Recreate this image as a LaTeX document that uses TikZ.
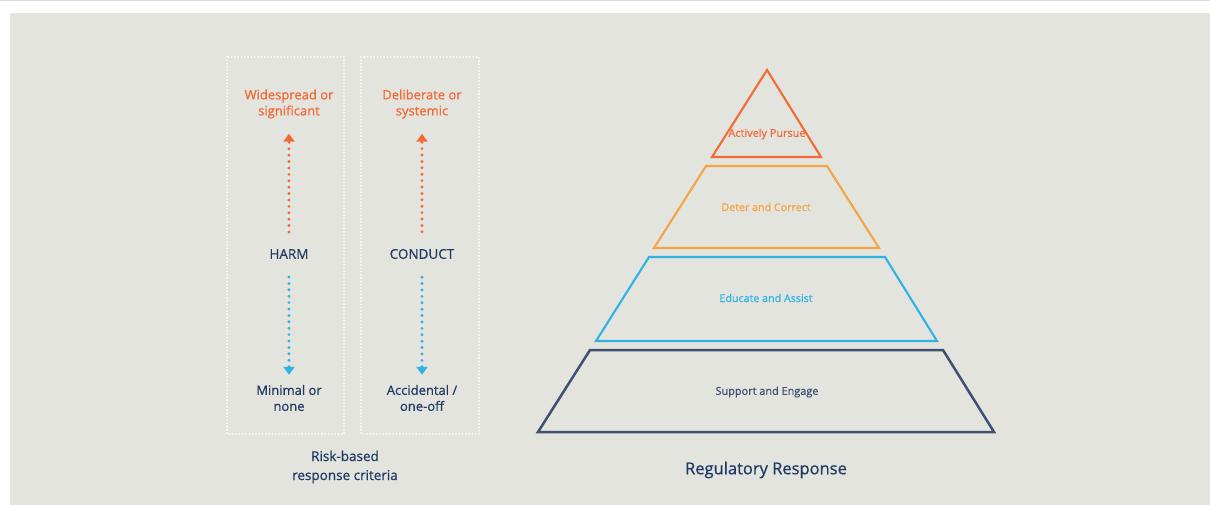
\documentclass[tikz,border=0pt]{standalone}
\usepackage{fontspec}
\setmainfont{Open Sans}
\newfontfamily\semib[FakeBold=0.7]{Open Sans}
\usetikzlibrary{arrows.meta}
\definecolor{panel}{HTML}{E4E4DF}
\definecolor{topline}{HTML}{DCDCDC}
\definecolor{rorange}{HTML}{F26A35}
\definecolor{ramber}{HTML}{F5A443}
\definecolor{rblue}{HTML}{2FB3E3}
\definecolor{rnavy}{HTML}{1F3B63}
\definecolor{pnavy}{HTML}{3D5270}
\tikzset{
  lbl/.style={font=\semib\fontsize{13}{16}\selectfont, align=center, inner sep=0pt},
  hi/.style={lbl, text=rorange},
  lo/.style={lbl, text=rnavy},
  axis/.style={lbl, text=rnavy, font=\semib\fontsize{13.5}{16}\selectfont},
  dotbox/.style={draw=white, line width=1.9pt, dash pattern=on 0pt off 3.3pt, line cap=round},
  dotarrow/.style={line width=3.2pt, dash pattern=on 0pt off 6.4pt, line cap=round,
    -{Triangle[width=11pt,length=8pt]}},
  tier/.style={line width=2.1pt, line join=miter},
  tierlbl/.style={font=\semib\fontsize{10.7}{12}\selectfont, inner sep=0pt},
}
\begin{document}
\begin{tikzpicture}[x=1pt,y=-1pt]
\useasboundingbox (0,0) rectangle (1210,505);
\fill[white] (0,0) rectangle (1210,505);
\fill[topline] (0,0) rectangle (1210,1.5);
\fill[panel] (10,13) rectangle (1210,505);

% dotted boxes
\draw[dotbox] (227,57) rectangle (344,434);
\draw[dotbox] (361,57) rectangle (479,434);

% left column
\node[hi] (wide) at (289,104) {Widespread or\\significant};
\node[axis] (harm) at (289,254) {HARM};
\node[lo] (minimal) at (289,398) {Minimal or\\none};
\draw[dotarrow, rorange, shorten <=17pt, shorten >=15pt] (harm.north) -- (wide.south);
\draw[dotarrow, rblue, shorten <=18pt, shorten >=10pt] (harm.south) -- (minimal.north);

% right column
\node[hi] (delib) at (422,104) {Deliberate or\\systemic};
\node[axis] (conduct) at (422,254) {CONDUCT};
\node[lo] (accid) at (422,398) {Accidental /\\one-off};
\draw[dotarrow, rorange, shorten <=17pt, shorten >=15pt] (conduct.north) -- (delib.south);
\draw[dotarrow, rblue, shorten <=18pt, shorten >=10pt] (conduct.south) -- (accid.north);

\node[lo, font=\semib\fontsize{13.5}{19}\selectfont] (criteria) at (345,467) {Risk-based\\response criteria};

% pyramid
\draw[tier, rorange] (767,70) -- (821,157) -- (712,157) -- cycle;
\node[tierlbl, text=rorange, font=\semib\fontsize{10.9}{12}\selectfont] (pursue) at (767,134) {Actively Pursue};
\draw[tier, ramber] (706,166) -- (827,166) -- (879,248) -- (654,248) -- cycle;
\node[tierlbl, text=ramber] (deter) at (766,207) {Deter and Correct};
\draw[tier, rblue] (649,257) -- (885,257) -- (937,341) -- (596,341) -- cycle;
\node[tierlbl, text=rblue] (educate) at (766,298) {Educate and Assist};
\draw[tier, pnavy, line width=2.5pt] (590,350) -- (943,350) -- (994,432) -- (538,432) -- cycle;
\node[tierlbl, text=pnavy, font=\semib\fontsize{10.9}{12}\selectfont] (support) at (767,392) {Support and Engage};

\node[lo, font=\semib\fontsize{16.5}{20}\selectfont] (regresp) at (766,470) {Regulatory Response};
\end{tikzpicture}
\end{document}
